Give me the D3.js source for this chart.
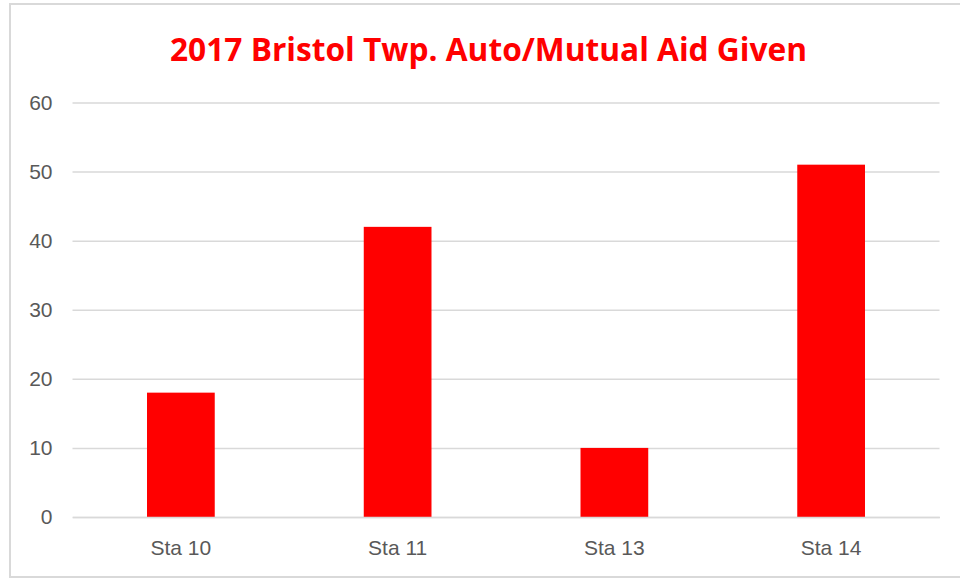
<!DOCTYPE html>
<html>
<head>
<meta charset="utf-8">
<script src="https://cdn.jsdelivr.net/npm/d3@7"></script>
<style>
  html, body { margin: 0; padding: 0; background: #fff; }
  svg { display: block; }
</style>
</head>
<body>
<svg id="chart" width="960" height="579"></svg>
<script>
const titleText = "2017 Bristol Twp. Auto/Mutual Aid Given";
const categories = ["Sta 10", "Sta 11", "Sta 13", "Sta 14"];
const values = [18, 42, 10, 51];
const yTicks = [0, 10, 20, 30, 40, 50, 60];

const svg = d3.select("#chart");
const W = 960, H = 579;
const margin = { left: 72.5, right: 20.5, top: 102.5, bottom: 62 };

// chart border
svg.append("rect")
  .attr("x", 10).attr("y", 4)
  .attr("width", 960).attr("height", 573)
  .attr("fill", "#fff")
  .attr("stroke", "#d9d9d9").attr("stroke-width", 2);

const x = d3.scaleBand()
  .domain(categories)
  .range([margin.left, W - margin.right])
  .paddingInner(0.6875)
  .paddingOuter(0.34375);

const y = d3.scaleLinear()
  .domain([0, 60])
  .range([H - margin.bottom, margin.top]);

// gridlines
const yAxis = d3.axisLeft(y).tickValues(yTicks).tickSize(-(W - margin.right - margin.left)).tickPadding(20);
const gy = svg.append("g")
  .attr("transform", `translate(${margin.left},0)`)
  .call(yAxis);
gy.select(".domain").remove();
gy.selectAll(".tick line").attr("stroke", "#d9d9d9").attr("stroke-width", 1.5);
gy.selectAll(".tick text")
  .attr("fill", "#595959")
  .style("font-family", "'Liberation Sans', Arial, sans-serif")
  .style("font-size", "21px");

// bars
svg.append("g").selectAll("rect")
  .data(values)
  .join("rect")
  .attr("x", (d, i) => x(categories[i]))
  .attr("y", d => y(d))
  .attr("width", x.bandwidth())
  .attr("height", d => y(0) - y(d))
  .attr("fill", "#ff0000");

// x axis
const xAxis = d3.axisBottom(x).tickSize(0).tickPadding(23);
const gx = svg.append("g")
  .attr("transform", `translate(0,${y(0)})`)
  .call(xAxis);
gx.select(".domain").attr("stroke", "#d9d9d9").attr("stroke-width", 1.5);
gx.selectAll(".tick text")
  .attr("fill", "#595959")
  .style("font-family", "'Liberation Sans', Arial, sans-serif")
  .style("font-size", "21px");

// title
svg.append("text")
  .attr("x", 488.5).attr("y", 61)
  .attr("text-anchor", "middle")
  .attr("fill", "#ff0000")
  .style("font-family", "'Open Sans', 'Liberation Sans', sans-serif")
  .style("font-weight", "bold")
  .style("font-size", "33px")
  .attr("textLength", 637)
  .attr("lengthAdjust", "spacingAndGlyphs")
  .text(titleText);
</script>
</body>
</html>
